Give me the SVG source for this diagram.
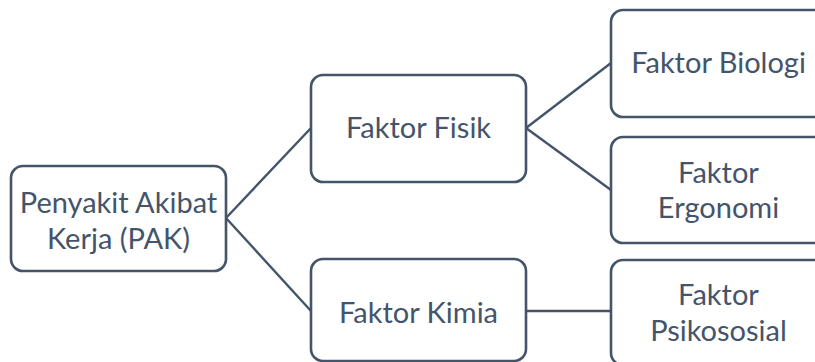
<svg xmlns="http://www.w3.org/2000/svg" width="815" height="362" viewBox="0 0 815 362">
<style>
.box{fill:#fff;stroke:#44546A;stroke-width:2.6}
.t{font-family:Lato,"Open Sans",sans-serif;font-size:29px;fill:#44546A;text-anchor:middle}
.c{fill:none;stroke:#44546A;stroke-width:2.4}
</style>
<rect width="815" height="362" fill="#fff"/>
<g id="connectors">
<line class="c" x1="226" y1="218" x2="311" y2="128"/>
<line class="c" x1="226" y1="218" x2="311" y2="311"/>
<line class="c" x1="526" y1="128" x2="611" y2="63"/>
<line class="c" x1="526" y1="128" x2="611" y2="190"/>
<line class="c" x1="526" y1="311" x2="611" y2="311"/>
</g>
<g id="pak">
<rect class="box" x="11" y="166" width="215" height="105" rx="12"/>
<text class="t" x="118.5" y="213">Penyakit Akibat</text>
<text class="t" x="118.5" y="249">Kerja (PAK)</text>
</g>
<g id="fisik">
<rect class="box" x="311" y="75" width="215" height="107" rx="12"/>
<text class="t" x="418.5" y="138">Faktor Fisik</text>
</g>
<g id="kimia">
<rect class="box" x="311" y="259" width="215" height="102" rx="12"/>
<text class="t" x="418.5" y="323">Faktor Kimia</text>
</g>
<g id="biologi">
<rect class="box" x="611" y="10" width="215" height="107" rx="12"/>
<text class="t" x="718.5" y="73">Faktor Biologi</text>
</g>
<g id="ergonomi">
<rect class="box" x="611" y="137" width="215" height="106" rx="12"/>
<text class="t" x="718.5" y="183">Faktor</text>
<text class="t" x="718.5" y="218">Ergonomi</text>
</g>
<g id="psikososial">
<rect class="box" x="611" y="260" width="215" height="105" rx="12"/>
<text class="t" x="718.5" y="305">Faktor</text>
<text class="t" x="718.5" y="341">Psikososial</text>
</g>
</svg>
